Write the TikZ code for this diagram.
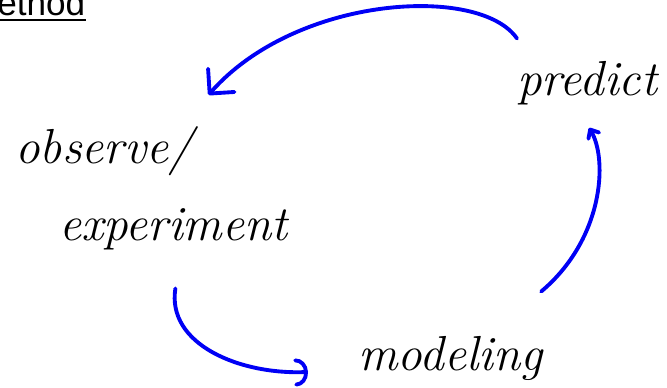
\documentclass[tikz,border=0pt]{standalone}
\usepackage{fontspec}
\newfontfamily\headfont{Liberation Sans}
\usepackage{tikz}
\usetikzlibrary{arrows.meta, calc}
\definecolor{inkblue}{HTML}{0000F5}

\begin{document}
\begin{tikzpicture}[x=0.02cm, y=-0.02cm,
    hand/.style={inner sep=0pt, align=left, font=\fontsize{28}{44}\selectfont\itshape},
    arr/.style={line width=2.2pt, inkblue, line cap=round, line join=round}
]
\useasboundingbox (0,0) rectangle (667,387);
\node[anchor=base west, inner sep=0pt, font=\headfont\fontsize{20}{24}\selectfont] (head) at (-3,15) {ethod};
\draw[line width=1.1pt] ([yshift=-3.1pt]head.base west) -- ([yshift=-3.1pt]head.base east);

\node[hand, anchor=north west] (obs) at (15,126) {observe/\\\hspace*{25pt}experiment};
\node[hand, anchor=base west] (pred) at (517,95) {predict};
\node[hand, anchor=base west] (model) at (358,370) {modeling};

\draw[arr, -{Straight Barb[round, length=10pt, width=20pt]}]
    ($(pred.north west)+(0,-22)$) .. controls +(-37,-54) and +(88,-100) .. ($(obs.north)+(57,-31)$);
\draw[arr, -{Straight Barb[round, length=4pt, width=7pt]}]
    ($(model.north east)+(-2,-44)$) .. controls +(62,-52) and +(19,32) .. ($(pred.south)+(2,23)$);
\draw[arr, -{Arc Barb[round, length=7pt, width=16pt]}]
    ($(obs.south)+(24,38)$) .. controls +(-9,56) and +(-68,3) .. ($(model.west)+(-50,14)$);
\end{tikzpicture}
\end{document}
